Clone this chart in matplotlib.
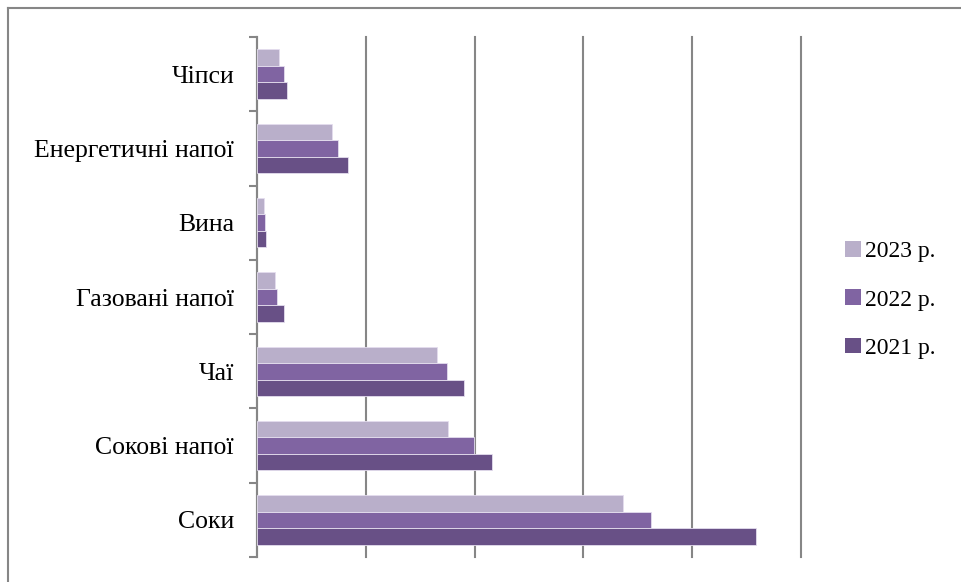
import numpy as np
import matplotlib.pyplot as plt
from matplotlib.lines import Line2D
from matplotlib.patches import Patch

categories = ['Соки', 'Сокові напої', 'Чаї', 'Газовані напої', 'Вина', 'Енергетичні напої', 'Чіпси']
series_names = ['2021 р.', '2022 р.', '2023 р.']
v2021 = [45.9, 21.6, 19.0, 2.5, 0.8, 8.4, 2.8]
v2022 = [36.2, 19.9, 17.5, 1.8, 0.7, 7.4, 2.5]
v2023 = [33.6, 17.6, 16.5, 1.7, 0.6, 6.9, 2.0]
colors = ['#685086', '#8064A2', '#B9AFCA']

plt.rcParams['font.family'] = ['Liberation Serif', 'DejaVu Serif']

fig = plt.figure(figsize=(9.61, 5.82), dpi=100)
ax = fig.add_axes([257/961, 1 - 557/582, (801 - 257)/961, (557 - 37)/582])

y = np.arange(len(categories))
h = 1/4.5
for i, (vals, c) in enumerate(zip([v2021, v2022, v2023], colors)):
    ax.barh(y + (i - 1)*h, vals, height=h, color=c, edgecolor='#E4DDEE', linewidth=0.6, zorder=3)

ax.set_xlim(0, 50)
ax.set_ylim(-0.5, len(categories) - 0.5)
ax.set_xticks(np.arange(0, 51, 10))
ax.tick_params(axis='x', length=0, labelbottom=False)
ax.grid(axis='x', color='#868686', linewidth=1.5, zorder=1)
for gl in ax.get_xgridlines():
    gl.set_clip_on(False)
ax.set_axisbelow(True)

ax.set_yticks(y)
ax.set_yticklabels(categories, fontsize=18.5)
ax.set_yticks(np.arange(-0.5, len(categories), 1), minor=True)
ax.tick_params(axis='y', which='major', length=0, pad=16.5)
ax.tick_params(axis='y', which='minor', length=6, width=1.5, color='#868686')

for s in ['top', 'right', 'bottom']:
    ax.spines[s].set_visible(False)
ax.spines['left'].set_color('#868686')
ax.spines['left'].set_linewidth(1.5)

handles = [Patch(facecolor=c, edgecolor='none', label=n) for c, n in zip(colors, series_names)]
leg = fig.legend(handles[::-1], series_names[::-1], loc='center left',
                 bbox_to_anchor=(824/961, 1 - 300/582), frameon=False,
                 fontsize=17, handlelength=0.65, handleheight=0.65,
                 handletextpad=0.2, labelspacing=1.15)

fig.add_artist(Line2D([8/961, 8/961], [0, 1 - 8/582], color='#868686', linewidth=1.5))
fig.add_artist(Line2D([8/961, 1], [1 - 8/582, 1 - 8/582], color='#868686', linewidth=1.5))

fig.savefig('out.png', dpi=100)
